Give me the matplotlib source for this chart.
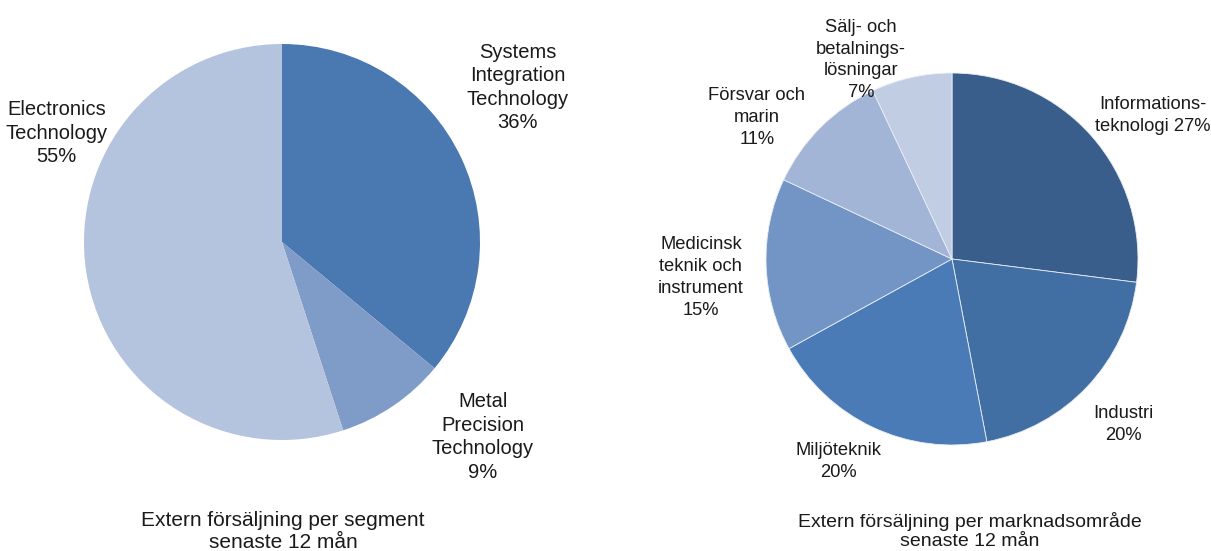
import matplotlib
matplotlib.use("Agg")
import matplotlib.pyplot as plt

plt.rcParams['font.family'] = ['Liberation Sans', 'DejaVu Sans']

# left pie - segments
seg_labels = ["Systems\nIntegration\nTechnology", "Metal\nPrecision\nTechnology", "Electronics\nTechnology"]
seg_values = [36, 9, 55]
seg_colors = ["#4a78b0", "#7f9cc8", "#b4c3de"]
seg_title = "Extern försäljning per segment\nsenaste 12 mån"

# right pie - market areas
mkt_labels = ["Informations-\nteknologi", "Industri", "Miljöteknik",
              "Medicinsk\nteknik och\ninstrument", "Försvar och\nmarin",
              "Sälj- och\nbetalnings-\nlösningar"]
mkt_values = [27, 20, 20, 15, 11, 7]
mkt_colors = ["#3a5e8b", "#426fa3", "#4a7bb6", "#7395c6", "#a3b5d6", "#c1cde3"]
mkt_title = "Extern försäljning per marknadsområde\nsenaste 12 mån"
mkt_sep = [" ", "\n", "\n", "\n", "\n", "\n"]

# label anchor points in pie-radius units
seg_pos = [(1.19, 0.78), (1.015, -0.985), (-1.14, 0.55)]
mkt_pos = [(1.08, 0.77), (0.92, -0.89), (-0.61, -1.09), (-1.35, -0.10), (-1.05, 0.76), (-0.49, 1.07)]

W, H = 1211, 551
fig = plt.figure(figsize=(W / 100, H / 100), dpi=100)


def pie_axes(cx, cy, r):
    return fig.add_axes([(cx - r) / W, (H - cy - r) / H, 2 * r / W, 2 * r / H])


ax1 = pie_axes(282, 242, 198)
ax1.pie(seg_values, colors=seg_colors, startangle=90, counterclock=False, radius=1,
        wedgeprops=dict(linewidth=0))
for lab, v, (x, y) in zip(seg_labels, seg_values, seg_pos):
    ax1.text(x, y, f"{lab}\n{v}%", ha="center", va="center", fontsize=14.5,
             color="#1a1a1a", linespacing=1.3)
ax1.set_xlim(-1, 1)
ax1.set_ylim(-1, 1)
ax1.axis("off")

ax2 = pie_axes(952, 259, 186)
ax2.pie(mkt_values, colors=mkt_colors, startangle=90, counterclock=False, radius=1,
        wedgeprops=dict(linewidth=0.6, edgecolor="#e8edf5"))
for lab, v, sep, (x, y) in zip(mkt_labels, mkt_values, mkt_sep, mkt_pos):
    ax2.text(x, y, f"{lab}{sep}{v}%", ha="center", va="center", fontsize=13.2,
             color="#1a1a1a", linespacing=1.38)
ax2.set_xlim(-1, 1)
ax2.set_ylim(-1, 1)
ax2.axis("off")

fig.text(283 / W, 1 - 531 / H, seg_title, ha="center", va="center", fontsize=15, color="#1a1a1a")
fig.text(970 / W, 1 - 531 / H, mkt_title, ha="center", va="center", fontsize=14, color="#1a1a1a")

fig.savefig("out.png", dpi=100)
